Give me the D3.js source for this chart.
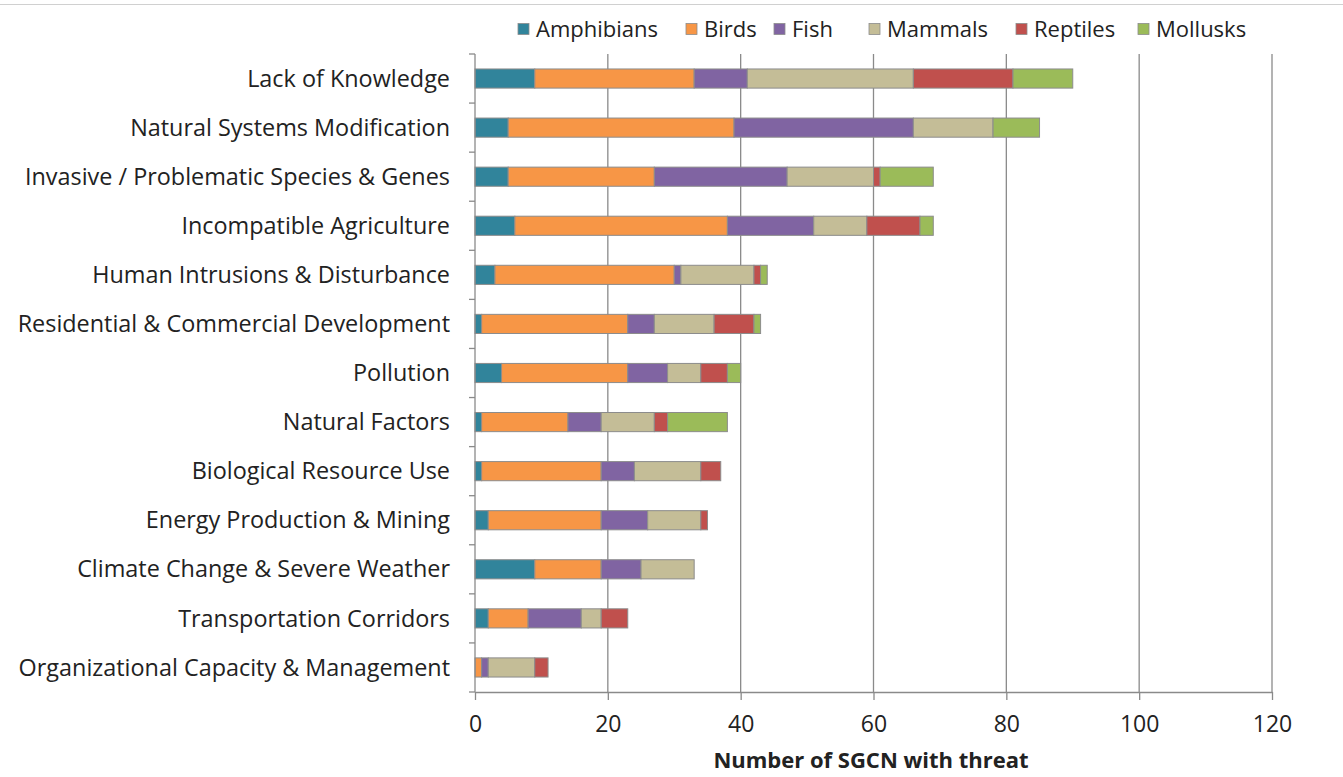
<!DOCTYPE html>
<html>
<head>
<meta charset="utf-8">
<script src="https://cdn.jsdelivr.net/npm/d3@7"></script>
<style>
  body { margin: 0; background: #fff; }
  text { font-family: "Open Sans", "Noto Sans", sans-serif; fill: #222; }
</style>
</head>
<body>
<div id="chart"></div>
<script>
// categories, top to bottom
const categories = [
  "Lack of Knowledge",
  "Natural Systems Modification",
  "Invasive / Problematic Species & Genes",
  "Incompatible Agriculture",
  "Human Intrusions & Disturbance",
  "Residential & Commercial Development",
  "Pollution",
  "Natural Factors",
  "Biological Resource Use",
  "Energy Production & Mining",
  "Climate Change & Severe Weather",
  "Transportation Corridors",
  "Organizational Capacity & Management"
];
const seriesNames = ["Amphibians", "Birds", "Fish", "Mammals", "Reptiles", "Mollusks"];
const amphibians = [9, 5, 5, 6, 3, 1, 4, 1, 1, 2, 9, 2, 0];
const birds      = [24, 34, 22, 32, 27, 22, 19, 13, 18, 17, 10, 6, 1];
const fish       = [8, 27, 20, 13, 1, 4, 6, 5, 5, 7, 6, 8, 1];
const mammals    = [25, 12, 13, 8, 11, 9, 5, 8, 10, 8, 8, 3, 7];
const reptiles   = [15, 0, 1, 8, 1, 6, 4, 2, 3, 1, 0, 4, 2];
const mollusks   = [9, 7, 8, 2, 1, 1, 2, 9, 0, 0, 0, 0, 0];
const xTicks = [0, 20, 40, 60, 80, 100, 120];
const colors = ["#31849B", "#F79646", "#8064A2", "#C4BD97", "#C0504D", "#9BBB59"];

const W = 1343, H = 777;
const margin = { top: 54, right: 71, bottom: 85, left: 475 };
const width = W - margin.left - margin.right;
const height = H - margin.top - margin.bottom;

const rows = categories.map((c, i) => ({
  cat: c,
  Amphibians: amphibians[i], Birds: birds[i], Fish: fish[i],
  Mammals: mammals[i], Reptiles: reptiles[i], Mollusks: mollusks[i]
}));

const svg = d3.select("#chart").append("svg")
  .attr("width", W).attr("height", H);

// thin border line at top
svg.append("line")
  .attr("x1", 0).attr("x2", W).attr("y1", 4.5).attr("y2", 4.5)
  .attr("stroke", "#d0d0d0");

const g = svg.append("g").attr("transform", `translate(${margin.left},${margin.top})`);

const x = d3.scaleLinear().domain([0, 120]).range([0, width]);
const y = d3.scaleBand().domain(categories).range([0, height]).paddingInner(0.61).paddingOuter(0.305);
const color = d3.scaleOrdinal().domain(seriesNames).range(colors);

// gridlines
g.selectAll(".grid").data(xTicks.slice(1)).enter().append("line")
  .attr("x1", d => x(d)).attr("x2", d => x(d))
  .attr("y1", 0).attr("y2", height)
  .attr("stroke", "#8a8a8a").attr("stroke-width", 1.3);

// stacked bars
const stacked = d3.stack().keys(seriesNames)(rows);
g.selectAll(".series").data(stacked).enter().append("g")
  .attr("fill", d => color(d.key))
  .selectAll("rect").data(d => d.filter(p => p[1] - p[0] > 0)).enter().append("rect")
  .attr("x", d => x(d[0]))
  .attr("width", d => x(d[1]) - x(d[0]))
  .attr("y", d => y(d.data.cat))
  .attr("height", y.bandwidth())
  .attr("stroke", "#8c8c8c").attr("stroke-width", 1);

// x axis
const xAxis = g.append("g").attr("transform", `translate(0,${height})`)
  .call(d3.axisBottom(x).tickValues(xTicks).tickSizeInner(8).tickSizeOuter(0).tickPadding(16));
xAxis.select(".domain").attr("stroke", "#8a8a8a").attr("stroke-width", 1.3);
xAxis.selectAll(".tick line").attr("stroke", "#8a8a8a").attr("stroke-width", 1.3);
xAxis.selectAll(".tick text").style("font-size", "23px").attr("fill", "#222");

// y axis: line with ticks between categories
g.append("line").attr("x1", 0).attr("x2", 0).attr("y1", 0).attr("y2", height)
  .attr("stroke", "#8a8a8a").attr("stroke-width", 1.3);
const step = y.step();
g.selectAll(".ytick").data(d3.range(categories.length + 1)).enter().append("line")
  .attr("x1", -6).attr("x2", 0)
  .attr("y1", i => i * step).attr("y2", i => i * step)
  .attr("stroke", "#8a8a8a").attr("stroke-width", 1.3);

g.selectAll(".ylabel").data(categories).enter().append("text")
  .attr("x", -25)
  .attr("y", d => y(d) + y.bandwidth() / 2)
  .attr("dy", "0.35em")
  .attr("text-anchor", "end")
  .style("font-size", "23.4px")
  .text(d => d);

// axis title
svg.append("text")
  .attr("x", 871)
  .attr("y", 768)
  .attr("text-anchor", "middle")
  .style("font-size", "22px")
  .style("font-weight", "bold")
  .text("Number of SGCN with threat");

// legend
const legendX = [518, 686, 774, 869, 1016, 1138];
const legend = svg.selectAll(".legend").data(seriesNames).enter().append("g")
  .attr("transform", (d, i) => `translate(${legendX[i]},29)`);
legend.append("rect")
  .attr("x", 0).attr("y", -5.5).attr("width", 11).attr("height", 11)
  .attr("fill", d => color(d)).attr("stroke", "#8c8c8c").attr("stroke-width", 0.8);
legend.append("text")
  .attr("x", 18).attr("dy", "0.35em")
  .style("font-size", "22px")
  .text(d => d);
</script>
</body>
</html>
